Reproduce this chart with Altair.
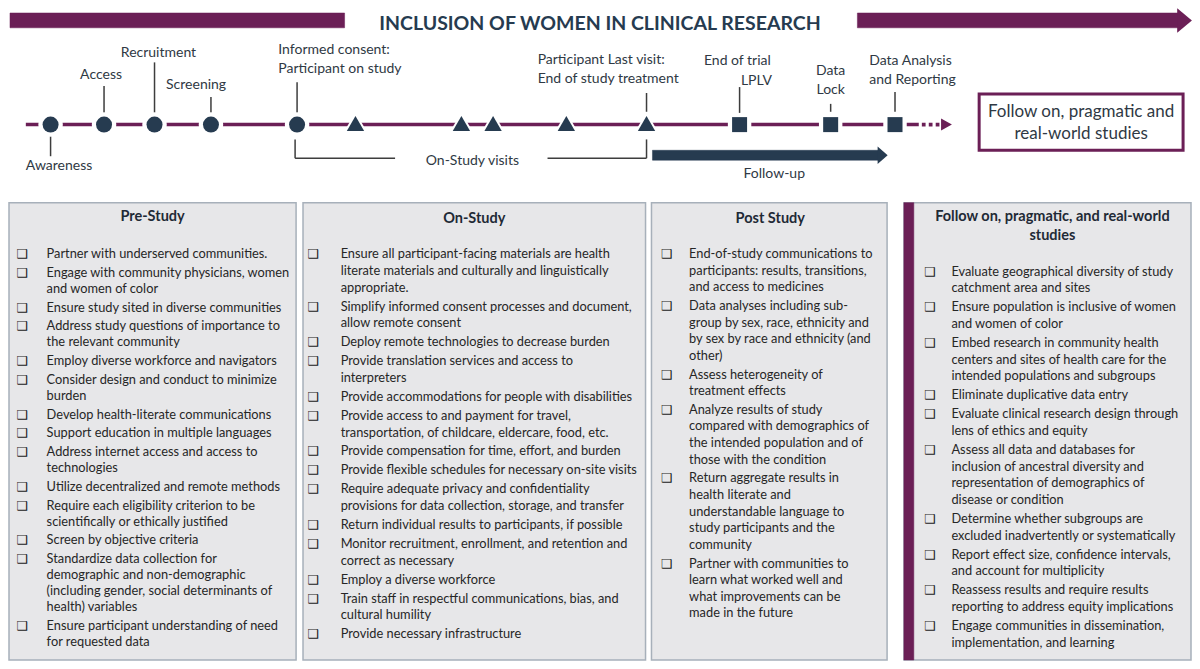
import altair as alt
import pandas as pd

FONT = "Lato"
MAGENTA = "#6B1F56"
NAVY = "#263B50"
TXT = "#262626"
LBL = "#2F3944"
BOXFILL = "#E7E7E9"
BOXSTROKE = "#A7B0BA"

# ---------------- data ----------------
title_text = "INCLUSION OF WOMEN IN CLINICAL RESEARCH"

# timeline milestones: marker position along the timeline and marker kind
marker_pos = [45, 99, 150, 207, 294, 353, 460, 492, 566, 647, 741, 833, 898]
marker_kind = ["circle"] * 5 + ["triangle-up"] * 5 + ["square"] * 3

# timeline labels
label_text = ["Awareness", "Access", "Recruitment", "Screening",
              "Informed consent:", "Participant on study",
              "Participant Last visit:", "End of study treatment",
              "End of trial", "LPLV", "Data", "Lock",
              "Data Analysis", "and Reporting",
              "On-Study visits", "Follow-up"]

follow_box_text = ["Follow on, pragmatic and", "real-world studies"]

box_titles = [["Pre-Study"], ["On-Study"], ["Post Study"],
              ["Follow on, pragmatic, and real-world", "studies"]]

pre_items = [
    ["Partner with underserved communities."],
    ["Engage with community physicians, women", "and women of color"],
    ["Ensure study sited in diverse communities"],
    ["Address study questions of importance to", "the relevant community"],
    ["Employ diverse workforce and navigators"],
    ["Consider design and conduct to minimize", "burden"],
    ["Develop health-literate communications"],
    ["Support education in multiple languages"],
    ["Address internet access and access to", "technologies"],
    ["Utilize decentralized and remote methods"],
    ["Require each eligibility criterion to be", "scientifically or ethically justified"],
    ["Screen by objective criteria"],
    ["Standardize data collection for", "demographic and non-demographic",
     "(including gender, social determinants of", "health) variables"],
    ["Ensure participant understanding of need", "for requested data"],
]

on_items = [
    ["Ensure all participant-facing materials are health",
     "literate materials and culturally and linguistically", "appropriate."],
    ["Simplify informed consent processes and document,", "allow remote consent"],
    ["Deploy remote technologies to decrease burden"],
    ["Provide translation services and access to", "interpreters"],
    ["Provide accommodations for people with disabilities"],
    ["Provide access to and payment for travel,",
     "transportation, of childcare, eldercare, food, etc."],
    ["Provide compensation for time, effort, and burden"],
    ["Provide flexible schedules for necessary on-site visits"],
    ["Require adequate privacy and confidentiality",
     "provisions for data collection, storage, and transfer"],
    ["Return individual results to participants, if possible"],
    ["Monitor recruitment, enrollment, and retention and", "correct as necessary"],
    ["Employ a diverse workforce"],
    ["Train staff in respectful communications, bias, and", "cultural humility"],
    ["Provide necessary infrastructure"],
]

post_items = [
    ["End-of-study communications to", "participants: results, transitions,",
     "and access to  medicines"],
    ["Data analyses including sub-", "group by sex, race, ethnicity and",
     "by sex by race and ethnicity (and", "other)"],
    ["Assess heterogeneity of", "treatment effects"],
    ["Analyze results of study", "compared with demographics of",
     "the intended population and of", "those with the condition"],
    ["Return aggregate results in", "health literate and", "understandable language to",
     "study participants and the", "community"],
    ["Partner with communities to", "learn what worked well and",
     "what improvements can be", "made in the future"],
]

follow_items = [
    ["Evaluate geographical diversity of study", "catchment area and sites"],
    ["Ensure population is inclusive of women", "and women of color"],
    ["Embed research in community health", "centers and sites of health care for the",
     "intended populations and subgroups"],
    ["Eliminate duplicative data entry"],
    ["Evaluate clinical research design through", "lens of ethics and equity"],
    ["Assess all data and databases for", "inclusion of ancestral diversity and",
     "representation of demographics of", "disease or condition"],
    ["Determine whether subgroups are", "excluded inadvertently or systematically"],
    ["Report effect size, confidence intervals,", "and account for multiplicity"],
    ["Reassess results and require results", "reporting to address equity implications"],
    ["Engage communities in dissemination,", "implementation, and learning"],
]

# ---------------- layout (reference pixel space) ----------------
xs = alt.Scale(domain=[3, 1197], nice=False, zero=False)
ys = alt.Scale(domain=[7, 664], nice=False, zero=False, reverse=True)


def X(f):
    return alt.X(f + ":Q", scale=xs, axis=None)


def Y(f):
    return alt.Y(f + ":Q", scale=ys, axis=None)


TL_Y = 121

# label placement: x, y, align
label_layout = [
    (20, 163, "left"), (96, 71, "center"), (154, 48, "center"), (192, 81, "center"),
    (275, 45, "left"), (275, 65, "left"),
    (537, 56, "left"), (537, 75, "left"),
    (705, 57, "left"), (758, 77, "center"), (833, 67, "center"), (833, 86, "center"),
    (872, 57, "left"), (872, 76, "left"),
    (424, 158, "left"), (776, 171, "center"),
]

leaders = [(45, 131, 153), (99, 82, 110), (150, 58, 110), (207, 93, 110), (294, 78, 110),
           (647, 89, 108), (741, 83, 110), (833, 100, 108), (898, 88, 108)]
brackets = [(292, 292, 136, 155), (292, 393, 155, 155), (547, 647, 155, 155), (647, 647, 136, 155)]

# boxes: x1, x2, title center, checkbox x, text x, first line y, within-item step, item step
boxes = [
    (3, 293, 148, 16, 41, 252, 16.2, 19.0, pre_items),
    (300, 646, 473, 310, 338, 252, 17.0, 19.15, on_items),
    (652, 890, 772, 667, 690, 252, 16.8, 19.0, post_items),
    (907, 1197, 1057, 933, 955, 270, 16.8, 19.3, follow_items),
]
BOX_Y1, BOX_Y2 = 200, 663
title_y = [(215,), (217,), (217,), (215, 234)]

# ---------------- build tables ----------------
rect_rows = []
for (x1, x2, *_rest) in boxes:
    rect_rows.append(dict(x1=x1, x2=x2, y1=BOX_Y1, y2=BOX_Y2, fill=BOXFILL, stroke=BOXSTROKE, sw=1.5))
rect_rows.append(dict(x1=907, x2=917, y1=BOX_Y1, y2=BOX_Y2, fill=MAGENTA, stroke=MAGENTA, sw=0.5))
rect_rows.append(dict(x1=983, x2=1189, y1=90, y2=147, fill="white", stroke=MAGENTA, sw=3))
rect_rows.append(dict(x1=4, x2=342, y1=8, y2=23, fill=MAGENTA, stroke=MAGENTA, sw=0.5))
rect_rows.append(dict(x1=860, x2=1184, y1=8, y2=23, fill=MAGENTA, stroke=MAGENTA, sw=0.5))
rect_rows.append(dict(x1=653, x2=881, y1=147, y2=157, fill=NAVY, stroke=NAVY, sw=0.5))
rects_df = pd.DataFrame(rect_rows)

item_rows, check_rows, btitle_rows = [], [], []
for bi, (x1, x2, tcx, cx, tx, y0, dwithin, ditem, items) in enumerate(boxes):
    y = y0
    for ii, lines in enumerate(items):
        if ii > 0:
            y += ditem
        check_rows.append(dict(x=cx, y=y, t="\u2751"))
        for li, line in enumerate(lines):
            if li > 0:
                y += dwithin
            item_rows.append(dict(x=tx, y=y, t=line))
    for line, ty in zip(box_titles[bi], title_y[bi]):
        btitle_rows.append(dict(x=tcx, y=ty, t=line))
items_df = pd.DataFrame(item_rows)
checks_df = pd.DataFrame(check_rows)
btitles_df = pd.DataFrame(btitle_rows)

lab_df = pd.DataFrame([dict(x=x, y=y, t=t, a=a) for t, (x, y, a) in zip(label_text, label_layout)])
lab_left = lab_df[lab_df.a == "left"]
lab_center = lab_df[lab_df.a == "center"]

rule_rows = [dict(x1=x, x2=x, y1=a, y2=b, c="#3D3D3D", w=1.5) for x, a, b in leaders]
rule_rows += [dict(x1=a, x2=b, y1=c, y2=d, c="#3D3D3D", w=1.5) for a, b, c, d in brackets]
rules_df = pd.DataFrame(rule_rows)

timeline_df = pd.DataFrame([dict(x1=20, x2=922, y1=TL_Y, y2=TL_Y)])
dots_df = pd.DataFrame(dict(x=[927, 934, 941], y=[TL_Y] * 3))

markers_df = pd.DataFrame(dict(x=marker_pos, y=[TL_Y] * len(marker_pos), shape=marker_kind))
size_map = {"circle": 256, "triangle-up": 300, "square": 225}
halo_map = {"circle": 600, "triangle-up": 720, "square": 550}
markers_df["size"] = markers_df["shape"].map(size_map)
markers_df["halo"] = markers_df["shape"].map(halo_map)
markers_df["yy"] = markers_df.apply(lambda r: r.y - 1 if r["shape"] == "triangle-up" else r.y, axis=1)

heads_df = pd.DataFrame([
    dict(x=1190.5, y=15.5, size=600, c=MAGENTA, shape="M-0.6,-1L0.6,0L-0.6,1Z"),
    dict(x=885.5, y=152, size=300, c=NAVY, shape="M-0.58,-1L0.58,0L-0.58,1Z"),
    dict(x=950, y=TL_Y, size=144, c=MAGENTA, shape="M-0.9,-1L0.9,0L-0.9,1Z"),
])

# ---------------- layers ----------------
rects = alt.Chart(rects_df).mark_rect().encode(
    x=X("x1"), x2="x2", y=Y("y1"), y2="y2",
    fill=alt.Fill("fill:N", scale=None),
    stroke=alt.Stroke("stroke:N", scale=None),
    strokeWidth=alt.StrokeWidth("sw:Q", scale=None),
)

timeline = alt.Chart(timeline_df).mark_rule(color=MAGENTA, strokeWidth=3.5).encode(
    x=X("x1"), x2="x2", y=Y("y1"))

dots = alt.Chart(dots_df).mark_point(shape="square", filled=True, color=MAGENTA, size=14, opacity=1).encode(
    x=X("x"), y=Y("y"))

rules = alt.Chart(rules_df).mark_rule().encode(
    x=X("x1"), x2="x2", y=Y("y1"), y2="y2",
    color=alt.Color("c:N", scale=None), strokeWidth=alt.StrokeWidth("w:Q", scale=None))

halos = alt.Chart(markers_df).mark_point(filled=True, color="white", opacity=1).encode(
    x=X("x"), y=Y("yy"), shape=alt.Shape("shape:N", scale=None),
    size=alt.Size("halo:Q", scale=None))

markers = alt.Chart(markers_df).mark_point(filled=True, color=NAVY, opacity=1).encode(
    x=X("x"), y=Y("yy"), shape=alt.Shape("shape:N", scale=None),
    size=alt.Size("size:Q", scale=None))

heads = alt.Chart(heads_df).mark_point(filled=True, opacity=1).encode(
    x=X("x"), y=Y("y"), shape=alt.Shape("shape:N", scale=None),
    size=alt.Size("size:Q", scale=None), color=alt.Color("c:N", scale=None))

title = alt.Chart(pd.DataFrame([dict(x=600, y=19, t=title_text)])).mark_text(
    font=FONT, fontWeight="bold", fontSize=19.5, color=NAVY, align="center", baseline="middle").encode(
    x=X("x"), y=Y("y"), text="t:N")

labels_l = alt.Chart(lab_left).mark_text(
    font=FONT, fontSize=14, color=LBL, align="left", baseline="middle").encode(
    x=X("x"), y=Y("y"), text="t:N")
labels_c = alt.Chart(lab_center).mark_text(
    font=FONT, fontSize=14, color=LBL, align="center", baseline="middle").encode(
    x=X("x"), y=Y("y"), text="t:N")

fbox_df = pd.DataFrame(dict(x=[1086, 1086], y=[108, 130], t=follow_box_text))
fbox_text = alt.Chart(fbox_df).mark_text(
    font=FONT, fontSize=17, color=LBL, align="center", baseline="middle").encode(
    x=X("x"), y=Y("y"), text="t:N")

btitles = alt.Chart(btitles_df).mark_text(
    font=FONT, fontWeight="bold", fontSize=14.5, color="#1F2A36", align="center", baseline="middle").encode(
    x=X("x"), y=Y("y"), text="t:N")

checks = alt.Chart(checks_df).mark_text(
    font="DejaVu Sans", fontWeight="bold", fontSize=12.5, color="#1A1A1A", align="center", baseline="middle").encode(
    x=X("x"), y=Y("y"), text="t:N")

items = alt.Chart(items_df).mark_text(
    font=FONT, fontSize=12.8, color=TXT, align="left", baseline="middle").encode(
    x=X("x"), y=Y("y"), text="t:N")

chart = alt.layer(
    rects, timeline, dots, rules, halos, markers, heads,
    title, labels_l, labels_c, fbox_text, btitles, checks, items,
).properties(
    width=1184, height=653,
    autosize=alt.AutoSizeParams(type="fit", contains="padding"),
    padding=0,
    background="white",
).configure_view(stroke=None)

chart.save("out.html", embed_options={"renderer": "svg", "actions": False})
